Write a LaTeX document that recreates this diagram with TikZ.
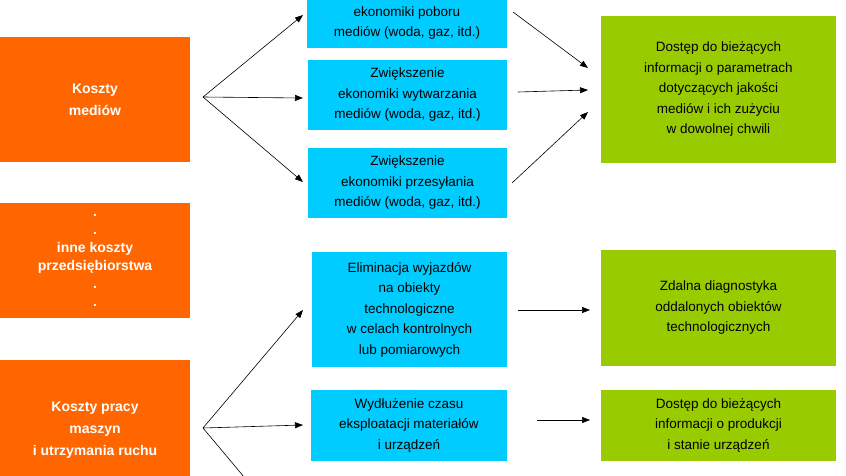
\documentclass[tikz,border=0pt]{standalone}
\usepackage{fontspec}
\setmainfont{Liberation Sans}
\usetikzlibrary{arrows.meta}
\definecolor{cor}{HTML}{FF6600}
\definecolor{cbl}{HTML}{00CCFF}
\definecolor{cgr}{HTML}{99CC00}
\begin{document}
\begin{tikzpicture}[x=1pt,y=-1pt,
  box/.style={inner sep=0pt,align=center,font=\fontsize{13.5}{20.5}\selectfont},
  ob/.style={box,fill=cor,text=white,font=\bfseries\fontsize{14}{22}\selectfont},
  bb/.style={box,fill=cbl},
  gb/.style={box,fill=cgr},
  ar/.style={-{Triangle[length=8pt,width=6pt]},line width=0.6pt}]
\useasboundingbox (0,0) rectangle (846,476);
\clip (0,0) rectangle (846,476);
\node[ob,minimum width=190,minimum height=125] (o1) at (95,99.5) {Koszty\\mediów};
\node[ob,minimum width=190,minimum height=115,font=\bfseries\fontsize{14}{18}\selectfont] (o2) at (95,260.5) {.\\.\\inne koszty\\przedsiębiorstwa\\.\\.};
\node[ob,minimum width=190,minimum height=140] (o3) at (95,430) {Koszty pracy\\maszyn\\i utrzymania ruchu};
\node[bb,minimum width=200,minimum height=70] (b1) at (407,13) {Zwiększenie\\ekonomiki poboru\\mediów (woda, gaz, itd.)};
\node[bb,minimum width=199,minimum height=70] (b2) at (407.5,95) {Zwiększenie\\ekonomiki wytwarzania\\mediów (woda, gaz, itd.)};
\node[bb,minimum width=199,minimum height=70] (b3) at (407.5,183) {Zwiększenie\\ekonomiki przesyłania\\mediów (woda, gaz, itd.)};
\node[bb,minimum width=195,minimum height=115] (b4) at (409.5,309.5) {Eliminacja wyjazdów\\na obiekty\\technologiczne\\w celach kontrolnych\\lub pomiarowych};
\node[bb,minimum width=196,minimum height=71] (b5) at (409,425.5) {Wydłużenie czasu\\eksploatacji materiałów\\i urządzeń};
\node[gb,minimum width=235,minimum height=147] (g1) at (718.5,89.5) {Dostęp do bieżących\\informacji o parametrach\\dotyczących jakości\\mediów i ich zużyciu\\w dowolnej chwili};
\node[gb,minimum width=235,minimum height=116] (g2) at (718.5,308) {Zdalna diagnostyka\\oddalonych obiektów\\technologicznych};
\node[gb,minimum width=235,minimum height=71] (g3) at (718.5,425.5) {Dostęp do bieżących\\informacji o produkcji\\i stanie urządzeń};
\coordinate (f1) at (203,97);
\coordinate (f2) at (203,428);
\coordinate (off) at (255,490);
\draw[ar] (f1) -- (303,15);
\draw[ar] (f1) -- (303,98);
\draw[ar] (f1) -- (303,182);
\draw[ar] (513,12) -- (588,68);
\draw[ar] (518,92) -- (588,90);
\draw[ar] (512,183) -- (588,112);
\draw[ar] (f2) -- (303,310);
\draw[ar] (f2) -- (303,425);
\draw[line width=0.6pt] (f2) -- (off);
\draw[ar] (518,310) -- (590,310);
\draw[ar] (537,420) -- (590,420);
\end{tikzpicture}
\end{document}
